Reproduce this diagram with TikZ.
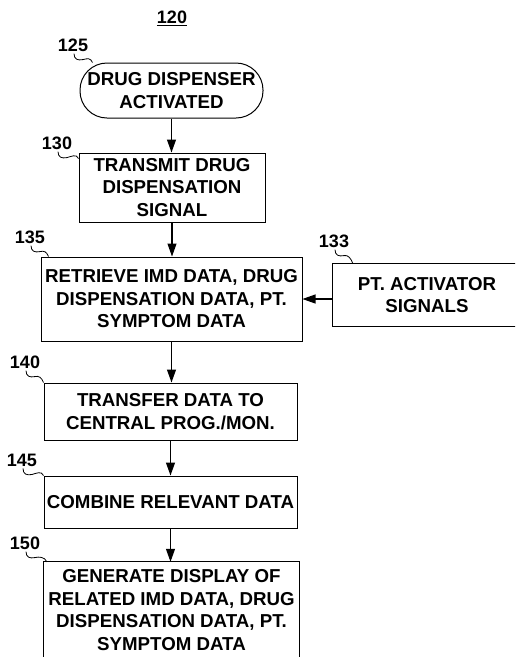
\documentclass[tikz,border=0pt]{standalone}
\usepackage{fontspec}
\setmainfont{Liberation Sans}
\usetikzlibrary{arrows.meta}
\newcommand{\boxfont}{\fontsize{18.7}{22.5}\selectfont\bfseries}
\tikzset{
  box/.style={draw, line width=1pt, align=center, font=\boxfont, inner sep=0pt},
  textbox/.style={align=center, font=\boxfont, inner sep=0pt},
  lbl/.style={font=\fontsize{18}{20}\selectfont\bfseries, inner sep=0pt},
  flow/.style={line width=1.1pt, -{Triangle[length=13pt,width=9pt]}},
  lead/.style={line width=0.8pt}
}
\begin{document}
\begin{tikzpicture}[x=1pt,y=-1pt]
\useasboundingbox (0,0) rectangle (515,657);
\clip (0,0) rectangle (515,657);
% title
\node[lbl] (t120) at (172,18) {\underline{120}};
% nodes
\node[box, rounded corners=27pt, minimum width=183pt, minimum height=55pt] (n125) at (171.5,90.5) {DRUG DISPENSER\\ACTIVATED};
\node[box, minimum width=186pt, minimum height=69pt] (n130) at (172,187.5) {TRANSMIT DRUG\\DISPENSATION\\SIGNAL};
\node[box, minimum width=261pt, minimum height=84pt] (n135) at (171.5,299) {RETRIEVE IMD DATA, DRUG\\DISPENSATION DATA, PT.\\SYMPTOM DATA};
\node[textbox, minimum width=188pt, minimum height=63pt] (n133) at (427,295) {PT. ACTIVATOR\\SIGNALS};
\draw[line width=1pt] ([xshift=20pt]n133.north east) -- (n133.north west) -- (n133.south west) -- ([xshift=20pt]n133.south east);
\node[box, minimum width=253pt, minimum height=57pt] (n140) at (170.5,411.5) {TRANSFER DATA TO\\CENTRAL PROG./MON.};
\node[box, minimum width=253pt, minimum height=52pt] (n145) at (170.5,502) {COMBINE RELEVANT DATA};
\node[textbox, minimum width=255pt, minimum height=96pt] (n150) at (171.5,610) {GENERATE DISPLAY OF\\RELATED IMD DATA, DRUG\\DISPENSATION DATA, PT.\\SYMPTOM DATA};
\draw[line width=1pt] ([yshift=-30pt]n150.south west) -- (n150.north west) -- (n150.north east) -- ([yshift=-30pt]n150.south east);
% labels
\node[lbl] (l125) at (73,45) {125};
\node[lbl] (l130) at (57,143) {130};
\node[lbl] (l135) at (30,237) {135};
\node[lbl] (l133) at (334,241) {133};
\node[lbl] (l140) at (25,362) {140};
\node[lbl] (l145) at (22,460) {145};
\node[lbl] (l150) at (25,543) {150};
% leaders
\draw[lead] ([xshift=1pt,yshift=-2pt]l125.south) .. controls +(0,6) and +(-5,1) .. ++(9,6) .. controls +(4,-1) and +(-2,-5) .. ([xshift=13pt]n125.north west);
\draw[lead] ([xshift=1pt,yshift=-2pt]l130.south) .. controls +(0,6) and +(-5,1) .. ++(9,6) .. controls +(4,-1) and +(-2,-5) .. ([yshift=-6pt]n130.north west);
\draw[lead] ([xshift=1pt,yshift=-2pt]l135.south) .. controls +(0,6) and +(-5,1) .. ++(9,6) .. controls +(4,-1) and +(-2,-5) .. ([xshift=8pt]n135.north west);
\draw[lead] ([xshift=1pt,yshift=-2pt]l133.south) .. controls +(0,6) and +(-5,1) .. ++(9,6) .. controls +(4,-1) and +(-2,-5) .. ([xshift=20pt]n133.north west);
\draw[lead] ([xshift=1pt,yshift=-2pt]l140.south) .. controls +(0,6) and +(-5,1) .. ++(9,6) .. controls +(4,-1) and +(-2,-5) .. ([xshift=0pt]n140.north west);
\draw[lead] ([xshift=1pt,yshift=-2pt]l145.south) .. controls +(0,6) and +(-5,1) .. ++(9,6) .. controls +(4,-1) and +(-2,-5) .. ([xshift=0pt]n145.north west);
\draw[lead] ([xshift=1pt,yshift=-2pt]l150.south) .. controls +(0,6) and +(-5,1) .. ++(9,6) .. controls +(4,-1) and +(-2,-5) .. ([xshift=3pt]n150.north west);
% flow arrows
\draw[flow] (n125.south) -- (n125.south |- n130.north);
\draw[flow] (n130.south) -- (n130.south |- n135.north);
\draw[flow] (n135.south) -- (n135.south |- n140.north);
\draw[flow] (n140.south) -- (n140.south |- n145.north);
\draw[flow] (n145.south) -- (n145.south |- n150.north);
\draw[flow] (n133.west |- n135.east) -- (n135.east);
\end{tikzpicture}
\end{document}
